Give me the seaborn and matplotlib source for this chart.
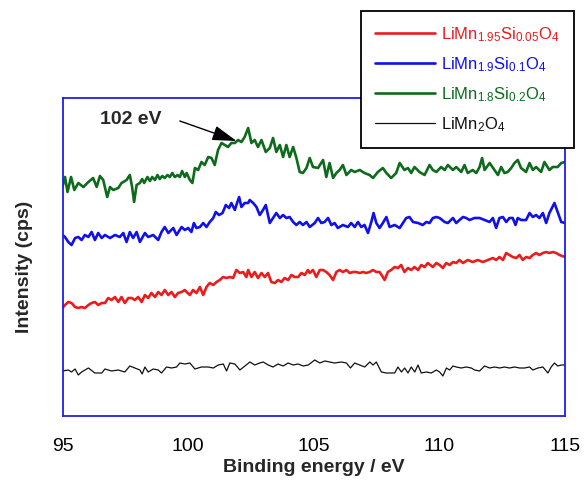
import matplotlib
matplotlib.use("Agg")
import matplotlib.pyplot as plt
import seaborn as sns

# ---------------- Si 2p XPS spectra (binding energy in eV, intensity in arbitrary counts) ----------------
# LiMn1.95Si0.05O4
e_red = [95.00, 95.10, 95.23, 95.36, 95.50, 95.63, 95.76, 95.89, 96.03, 96.16,
         96.29, 96.42, 96.56, 96.69, 96.82, 96.95, 97.09, 97.22, 97.35, 97.48,
         97.62, 97.75, 97.88, 98.01, 98.15, 98.28, 98.41, 98.54, 98.68, 98.81,
         98.94, 99.07, 99.21, 99.34, 99.47, 99.60, 99.74, 99.87,
         99.94, 100.07, 100.20, 100.33, 100.47, 100.60, 100.73, 100.86, 101.00, 101.13,
         101.26, 101.39, 101.53, 101.66, 101.79, 101.92, 102.06, 102.19, 102.32, 102.39,
         102.52, 102.65, 102.78, 102.92, 103.05, 103.18, 103.31, 103.45, 103.58, 103.71,
         103.84, 103.98, 104.11, 104.24, 104.38, 104.51, 104.64, 104.77,
         104.84, 104.97, 105.10, 105.24, 105.37, 105.50, 105.63, 105.77, 105.90, 106.03,
         106.16, 106.30, 106.43, 106.56, 106.69, 106.83, 106.96, 107.09, 107.22, 107.36,
         107.49, 107.62, 107.75, 107.82, 107.95, 108.08, 108.22, 108.35, 108.48, 108.61,
         108.75, 108.88, 109.01, 109.15, 109.28, 109.41, 109.54,
         109.74, 109.88, 110.01, 110.14, 110.27, 110.41, 110.54, 110.67, 110.80, 110.94,
         111.13, 111.33, 111.53, 111.73, 111.93, 112.13, 112.26, 112.39, 112.53, 112.66,
         112.79, 112.92, 113.06, 113.19, 113.32, 113.45, 113.59, 113.72, 113.85, 113.98,
         114.12, 114.25, 114.38, 114.51, 114.65, 114.78, 115.00]
i_red = [108, 111, 114, 113, 109, 108, 109, 108, 111, 113,
         114, 111, 113, 113, 118, 116, 119, 114, 119, 113,
         118, 118, 116, 119, 114, 121, 118, 123, 119, 124,
         121, 126, 121, 124, 119, 123, 124, 126,
         124, 121, 126, 123, 129, 121, 129, 133, 131, 134,
         136, 139, 138, 139, 138, 146, 143, 144, 139, 146,
         139, 144, 138, 143, 139, 143, 134, 133, 136, 134,
         138, 136, 141, 139, 139, 143, 141, 146,
         143, 146, 139, 146, 146, 144, 141, 136, 144, 146,
         144, 146, 143, 144, 144, 143, 144, 143, 144, 146,
         144, 144, 139, 136, 144, 146, 149, 148, 151, 144,
         148, 146, 149, 146, 151, 149, 153,
         149, 153, 151, 148, 153, 151, 154, 153, 156, 153,
         156, 154, 156, 154, 156, 158, 156, 159, 156, 163,
         161, 159, 158, 161, 156, 159, 158, 161, 163, 161,
         163, 164, 163, 164, 163, 161, 159]

# LiMn1.9Si0.1O4
e_blue = [95.00, 95.10, 95.23, 95.36, 95.50, 95.63, 95.76, 95.89, 96.03, 96.16,
          96.29, 96.42, 96.56, 96.69, 96.89, 97.09, 97.28, 97.42, 97.55, 97.68,
          97.81, 97.95, 98.08, 98.28, 98.41, 98.61, 98.81, 98.94, 99.07, 99.21,
          99.41, 99.54, 99.74, 99.87,
          100.00, 100.13, 100.23, 100.33, 100.47, 100.60, 100.73, 100.86, 101.00, 101.10,
          101.23, 101.37, 101.50, 101.63, 101.72, 101.86, 101.92, 102.03, 102.12, 102.25,
          102.39, 102.45, 102.59, 102.72, 102.85, 102.98, 103.09, 103.25, 103.38, 103.51,
          103.65, 103.78, 103.91, 104.04, 104.18, 104.31, 104.44, 104.57, 104.71, 104.84,
          105.04, 105.17, 105.30, 105.43, 105.57, 105.70, 105.83, 105.96, 106.16, 106.36,
          106.49, 106.63, 106.76, 106.89, 107.02, 107.16, 107.29, 107.38, 107.49, 107.62,
          107.75, 107.89, 108.02, 108.22, 108.42, 108.55, 108.68, 108.81, 108.95, 109.15,
          109.34, 109.48, 109.61,
          109.74, 109.88, 110.01, 110.21, 110.34, 110.54, 110.67, 110.80, 110.94, 111.07,
          111.20, 111.40, 111.60, 111.80, 112.00, 112.13, 112.26, 112.39, 112.53, 112.66,
          112.79, 112.92, 113.03, 113.12, 113.25, 113.45, 113.59, 113.72, 113.85, 113.98,
          114.12, 114.25, 114.38, 114.58, 114.71, 114.85, 115.00]
i_blue = [181, 179, 174, 171, 178, 179, 176, 181, 179, 184,
          176, 183, 178, 181, 178, 181, 179, 183, 174, 184,
          178, 184, 174, 183, 179, 181, 176, 184, 189, 183,
          188, 181, 189, 186,
          188, 184, 193, 188, 189, 193, 189, 194, 198, 204,
          201, 203, 211, 208, 213, 206, 211, 219, 209, 213,
          213, 216, 213, 209, 201, 206, 211, 193, 198, 203,
          198, 201, 198, 199, 194, 191, 194, 191, 194, 189,
          193, 198, 193, 194, 198, 191, 193, 188, 191, 189,
          193, 189, 194, 189, 191, 183, 194, 203, 193, 188,
          193, 199, 189, 191, 188, 193, 198, 199, 194, 193,
          191, 194, 193,
          198, 199, 198, 194, 193, 198, 193, 196, 199, 198,
          196, 198, 198, 196, 194, 198, 188, 198, 199, 194,
          198, 198, 191, 198, 196, 196, 203, 199, 201, 198,
          203, 193, 203, 213, 204, 194, 193]

# LiMn1.8Si0.2O4
e_green = [95.00, 95.10, 95.20, 95.34, 95.47, 95.63, 95.83, 96.03, 96.22, 96.36,
           96.49, 96.62, 96.78, 96.89, 97.02, 97.22, 97.35, 97.55, 97.68, 97.77,
           97.85, 97.95, 98.08, 98.17, 98.25, 98.38, 98.48, 98.57, 98.68, 98.78,
           98.87, 98.97, 99.07, 99.18, 99.27, 99.37, 99.47, 99.58, 99.67, 99.76,
           99.87,
           99.94, 100.07, 100.17, 100.27, 100.40, 100.53, 100.66, 100.80, 100.93, 101.06,
           101.19, 101.33, 101.46, 101.59, 101.72, 101.86, 101.99, 102.12, 102.25, 102.39,
           102.52, 102.65, 102.78, 102.92, 103.09, 103.25, 103.38, 103.51, 103.65, 103.78,
           103.91, 104.04, 104.18, 104.31, 104.44, 104.57, 104.71, 104.84,
           104.97, 105.17, 105.37, 105.50, 105.63, 105.77, 105.90, 106.03, 106.16, 106.30,
           106.49, 106.63, 106.83, 107.02, 107.22, 107.36, 107.55, 107.75, 107.89, 108.08,
           108.28, 108.42, 108.61, 108.75, 108.88, 109.01, 109.21, 109.41, 109.61,
           109.74, 109.88, 110.07, 110.21, 110.34, 110.54, 110.67, 110.87, 111.00, 111.13,
           111.33, 111.47, 111.60, 111.70, 111.80, 112.00, 112.19, 112.33, 112.46, 112.59,
           112.72, 112.86, 112.99, 113.12, 113.25, 113.45, 113.59, 113.72, 113.85, 114.05,
           114.18, 114.38, 114.51, 114.71, 114.85, 115.00]
i_green = [229, 239, 224, 239, 226, 233, 229, 234, 238, 229,
           240, 236, 219, 229, 226, 228, 233, 236, 241, 229,
           214, 231, 233, 237, 233, 239, 235, 239, 236, 241,
           237, 240, 238, 241, 239, 243, 239, 241, 239, 245,
           239,
           243, 236, 233, 248, 246, 254, 251, 259, 258, 251,
           266, 273, 271, 269, 273, 273, 276, 274, 279, 288,
           273, 276, 269, 276, 264, 268, 278, 264, 271, 259,
           271, 259, 269, 258, 244, 243, 248, 258,
           249, 248, 256, 239, 253, 238, 243, 246, 251, 241,
           246, 244, 246, 243, 241, 238, 244, 248, 243, 238,
           243, 253, 246, 248, 243, 249, 244, 241, 251,
           246, 244, 249, 246, 251, 246, 249, 244, 251, 243,
           246, 243, 249, 258, 246, 253, 246, 241, 249, 243,
           244, 248, 253, 256, 248, 244, 253, 246, 249, 244,
           254, 246, 249, 249, 253, 254]

# LiMn2O4 (no Si)
e_black = [95.00, 95.23, 95.36, 95.50, 95.63, 95.76, 96.03, 96.29, 96.56, 96.69,
           96.95, 97.22, 97.48, 97.68, 97.88, 98.08, 98.17, 98.28, 98.41, 98.61,
           98.81, 98.94, 99.14, 99.34, 99.54, 99.67, 99.87, 100.07, 100.27, 100.53,
           100.80, 101.00, 101.20, 101.40, 101.53, 101.66, 101.86, 102.06, 102.26, 102.46,
           102.65, 102.85, 102.99, 103.19, 103.38, 103.58, 103.78, 103.98, 104.18, 104.38,
           104.58, 104.78,
           105.04, 105.24, 105.44, 105.64, 105.83, 106.10, 106.30, 106.46, 106.63, 106.83,
           107.03, 107.23, 107.36, 107.49, 107.69, 107.89, 108.09, 108.22, 108.35, 108.49,
           108.62, 108.75, 108.88, 109.02, 109.15, 109.28, 109.48, 109.68, 109.88, 110.01,
           110.14, 110.28, 110.41, 110.54, 110.67, 110.87, 111.07, 111.27, 111.40, 111.60,
           111.80, 112.00, 112.20, 112.40, 112.59, 112.79, 112.99, 113.19, 113.39, 113.59,
           113.72, 113.92, 114.12, 114.32, 114.45, 114.58, 114.71, 114.85, 115.00]
i_black = [45, 46, 44, 47, 41, 44, 48, 43, 43, 47,
           45, 46, 44, 50, 48, 46, 42, 49, 44, 47,
           46, 43, 49, 48, 49, 53, 52, 53, 47, 49,
           49, 48, 51, 52, 45, 53, 52, 46, 50, 54,
           51, 53, 54, 51, 49, 52, 50, 53, 51, 52,
           50, 51,
           56, 53, 55, 54, 53, 54, 53, 48, 53, 51,
           49, 54, 51, 54, 44, 43, 43, 43, 49, 44,
           48, 43, 49, 44, 51, 43, 44, 43, 46, 44,
           40, 48, 46, 50, 49, 48, 49, 48, 46, 45,
           50, 48, 49, 48, 49, 48, 49, 48, 48, 49,
           46, 48, 49, 43, 49, 53, 50, 51, 51]

labels = [r"LiMn$_{1.95}$Si$_{0.05}$O$_{4}$",
          r"LiMn$_{1.9}$Si$_{0.1}$O$_{4}$",
          r"LiMn$_{1.8}$Si$_{0.2}$O$_{4}$",
          r"LiMn$_{2}$O$_{4}$"]
colors = ["#ea1c1c", "#1010ea", "#0e6b1c", "#111111"]
widths = [1.9, 1.9, 1.9, 0.9]

x_ticks = [95, 100, 105, 110, 115]
peak_label = "102 eV"
peak_tip = (101.93, 275)
peak_tail = (99.67, 295)
peak_text_pos = (96.49, 297)

# ---------------- styling ----------------
sns.set_style("white")
plt.rcParams["font.family"] = ["Liberation Sans", "DejaVu Sans"]
plt.rcParams["mathtext.default"] = "regular"

W, H = 584, 483
fig = plt.figure(figsize=(W / 100, H / 100), dpi=100)
ax = fig.add_axes([62.5 / W, 1 - 416 / H, (565 - 62.5) / W, (416 - 98) / H])

spine_blue = "#1e1ef0"

series = [(e_red, i_red), (e_blue, i_blue), (e_green, i_green), (e_black, i_black)]
for (e, i), lab, col, lw in zip(series, labels, colors, widths):
    sns.lineplot(x=e, y=i, ax=ax, color=col, linewidth=lw, label=lab,
                 estimator=None, sort=False)

ax.set_xlim(95, 115)
ax.set_ylim(0, 318)
ax.set_xticks(x_ticks)
ax.set_xticklabels([str(t) for t in x_ticks])
ax.set_yticks([])
ax.tick_params(axis="x", direction="in", length=8, width=1.2, color=spine_blue,
               labelsize=14, pad=15.5, labelcolor="black")
for sp in ax.spines.values():
    sp.set_color(spine_blue)
    sp.set_linewidth(1.3)
    sp.set_visible(True)

ax.set_xlabel("Binding energy / eV", fontsize=14, fontweight="bold")
ax.set_ylabel("Intensity (cps)", fontsize=14, fontweight="bold")
ax.xaxis.set_label_coords(0.5, -(459 - 416) / 318)
ax.yaxis.set_label_coords(-(62.5 - 33) / 502.5, (416 - 267) / 318)

# peak annotation
ax.text(peak_text_pos[0], peak_text_pos[1], peak_label, fontsize=14,
        fontweight="bold", ha="left", va="center")
ax.annotate("", xy=peak_tip, xytext=peak_tail,
            arrowprops=dict(arrowstyle="-|>,head_length=0.75,head_width=0.23",
                            color="black", lw=1.0, mutation_scale=20,
                            shrinkA=0, shrinkB=0))

handles, labs = ax.get_legend_handles_labels()
leg = ax.legend(handles, labs, loc="upper right",
                bbox_to_anchor=(574 / W, 1 - 11 / H), bbox_transform=fig.transFigure,
                fontsize=12, frameon=True, fancybox=False, framealpha=1,
                edgecolor="black", borderaxespad=0, borderpad=0.85,
                handlelength=3.6, handletextpad=0.35, labelspacing=0.68)
leg.get_frame().set_linewidth(1.3)
for txt, col in zip(leg.get_texts(), colors):
    txt.set_color(col)

fig.savefig("out.png", dpi=100)
